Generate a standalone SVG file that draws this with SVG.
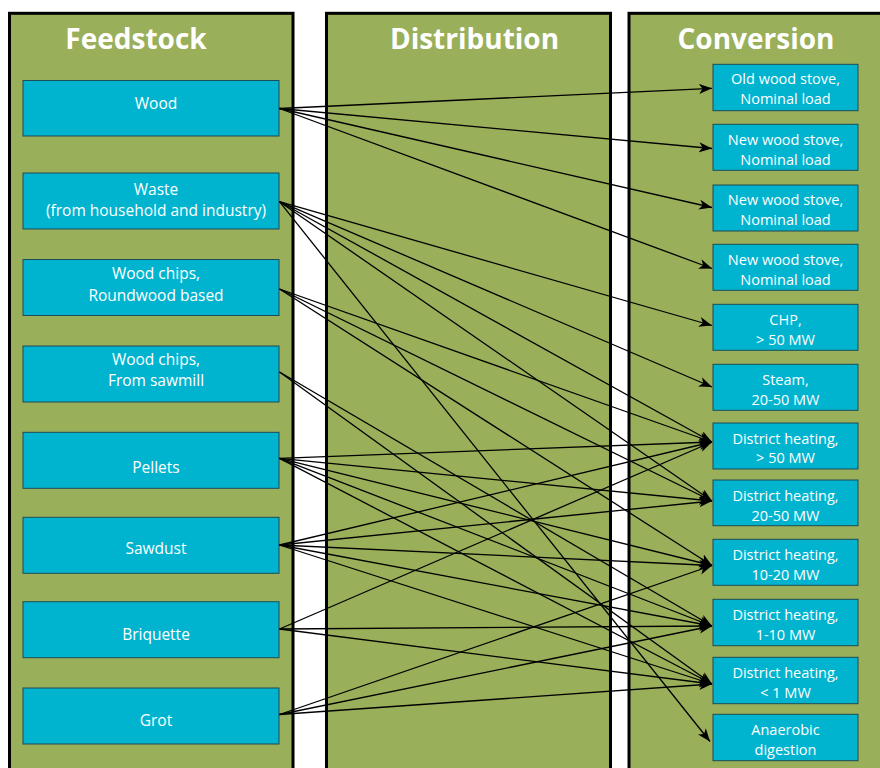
<svg xmlns="http://www.w3.org/2000/svg" width="880" height="768" viewBox="0 0 880 768">
<style>
.col{fill:#9aaf59;stroke:#000;stroke-width:3}
.title{font-family:"Open Sans","Noto Sans",sans-serif;font-weight:bold;font-size:28px;fill:#fff;text-anchor:middle}
.box{fill:#00b4cf;stroke:#1d4b57;stroke-width:1}
.ft{font-family:"Open Sans","Noto Sans",sans-serif;font-size:15.5px;fill:#fff;text-anchor:middle}
.ct{font-family:"Open Sans","Noto Sans",sans-serif;font-size:14.5px;fill:#fff;text-anchor:middle}
.e{stroke:#000;stroke-width:1.3;fill:none;marker-end:url(#ah)}
</style>
<defs>
<marker id="ah" markerUnits="userSpaceOnUse" markerWidth="14" markerHeight="11" refX="13" refY="5" orient="auto">
<path d="M0,0 L13,5 L0,10 L3.5,5 Z" fill="#000"/>
</marker>
</defs>
<rect width="880" height="768" fill="#fff"/>
<g id="col-feedstock"><rect class="col" x="9.5" y="13.3" width="283.5" height="800"/><text class="title" x="136" y="49">Feedstock</text></g>
<g id="col-distribution"><rect class="col" x="326.5" y="13.3" width="284" height="800"/><text class="title" x="474.5" y="49">Distribution</text></g>
<g id="col-conversion"><rect class="col" x="629" y="13.3" width="270" height="800"/><text class="title" x="756" y="49">Conversion</text></g>

<g id="f-wood"><rect class="box" x="23" y="80.5" width="256" height="55.5"/><text class="ft" x="156" y="109">Wood</text></g>
<g id="f-waste"><rect class="box" x="23" y="173" width="256" height="56"/><text class="ft" x="156" y="195">Waste</text><text class="ft" x="156" y="216">(from household and industry)</text></g>
<g id="f-chips-round"><rect class="box" x="23" y="259.5" width="256" height="56"/><text class="ft" x="156" y="279">Wood chips,</text><text class="ft" x="156" y="301">Roundwood based</text></g>
<g id="f-chips-saw"><rect class="box" x="23" y="346" width="256" height="56"/><text class="ft" x="156" y="365">Wood chips,</text><text class="ft" x="156" y="386">From sawmill</text></g>
<g id="f-pellets"><rect class="box" x="23" y="432.3" width="256" height="56"/><text class="ft" x="156" y="473">Pellets</text></g>
<g id="f-sawdust"><rect class="box" x="23" y="517.3" width="256" height="56"/><text class="ft" x="156" y="554">Sawdust</text></g>
<g id="f-briquette"><rect class="box" x="23" y="601.7" width="256" height="56"/><text class="ft" x="156" y="640">Briquette</text></g>
<g id="f-grot"><rect class="box" x="23" y="688" width="256" height="56"/><text class="ft" x="156" y="726">Grot</text></g>

<g id="c-old"><rect class="box" x="713" y="64.3" width="145" height="46.4"/><text class="ct" x="785.5" y="84">Old wood stove,</text><text class="ct" x="785.5" y="104">Nominal load</text></g>
<g id="c-new1"><rect class="box" x="713" y="124.3" width="145" height="46"/><text class="ct" x="785.5" y="144.5">New wood stove,</text><text class="ct" x="785.5" y="164.5">Nominal load</text></g>
<g id="c-new2"><rect class="box" x="713" y="185" width="145" height="46"/><text class="ct" x="785.5" y="205">New wood stove,</text><text class="ct" x="785.5" y="225">Nominal load</text></g>
<g id="c-new3"><rect class="box" x="713" y="244.3" width="145" height="46"/><text class="ct" x="785.5" y="264.5">New wood stove,</text><text class="ct" x="785.5" y="284.5">Nominal load</text></g>
<g id="c-chp"><rect class="box" x="713" y="304.3" width="145" height="46"/><text class="ct" x="785.5" y="324.5">CHP,</text><text class="ct" x="785.5" y="344.5">&gt; 50 MW</text></g>
<g id="c-steam"><rect class="box" x="713" y="364.3" width="145" height="46"/><text class="ct" x="785.5" y="384.5">Steam,</text><text class="ct" x="785.5" y="404.5">20-50 MW</text></g>
<g id="c-dh50"><rect class="box" x="713" y="423" width="145" height="46"/><text class="ct" x="785.5" y="443.5">District heating,</text><text class="ct" x="785.5" y="463">&gt; 50 MW</text></g>
<g id="c-dh2050"><rect class="box" x="713" y="480" width="145" height="45.7"/><text class="ct" x="785.5" y="500.5">District heating,</text><text class="ct" x="785.5" y="520.5">20-50 MW</text></g>
<g id="c-dh1020"><rect class="box" x="713" y="539.3" width="145" height="46"/><text class="ct" x="785.5" y="559.5">District heating,</text><text class="ct" x="785.5" y="579.5">10-20 MW</text></g>
<g id="c-dh110"><rect class="box" x="713" y="599.3" width="145" height="46.4"/><text class="ct" x="785.5" y="619.5">District heating,</text><text class="ct" x="785.5" y="639.5">1-10 MW</text></g>
<g id="c-dh1"><rect class="box" x="713" y="657.3" width="145" height="46.4"/><text class="ct" x="785.5" y="677.5">District heating,</text><text class="ct" x="785.5" y="697.5">&lt; 1 MW</text></g>
<g id="c-anaerobic"><rect class="box" x="713" y="714.3" width="145" height="46.4"/><text class="ct" x="785.5" y="734.5">Anaerobic</text><text class="ct" x="785.5" y="754.5">digestion</text></g>

<g id="connectors">
<line class="e" x1="279.5" y1="108.5" x2="712" y2="88.3"/>
<line class="e" x1="279.5" y1="108.5" x2="712" y2="148.5"/>
<line class="e" x1="279.5" y1="108.5" x2="712" y2="207.5"/>
<line class="e" x1="279.5" y1="108.5" x2="712" y2="268.5"/>
<line class="e" x1="279.5" y1="201.7" x2="712" y2="325.5"/>
<line class="e" x1="279.5" y1="201.7" x2="712" y2="387"/>
<line class="e" x1="279.5" y1="201.7" x2="712" y2="442"/>
<line class="e" x1="279.5" y1="201.7" x2="712" y2="501"/>
<line class="e" x1="279.5" y1="201.7" x2="710" y2="741.5"/>
<line class="e" x1="279.5" y1="289" x2="712" y2="442"/>
<line class="e" x1="279.5" y1="289" x2="712" y2="501"/>
<line class="e" x1="279.5" y1="289" x2="712" y2="565.5"/>
<line class="e" x1="279.5" y1="372" x2="712" y2="626"/>
<line class="e" x1="279.5" y1="372" x2="712" y2="684"/>
<line class="e" x1="279.5" y1="458.3" x2="712" y2="442"/>
<line class="e" x1="279.5" y1="458.3" x2="712" y2="501"/>
<line class="e" x1="279.5" y1="458.3" x2="712" y2="565.5"/>
<line class="e" x1="279.5" y1="458.3" x2="712" y2="626"/>
<line class="e" x1="279.5" y1="458.3" x2="712" y2="684"/>
<line class="e" x1="279.5" y1="545" x2="712" y2="442"/>
<line class="e" x1="279.5" y1="545" x2="712" y2="501"/>
<line class="e" x1="279.5" y1="545" x2="712" y2="565.5"/>
<line class="e" x1="279.5" y1="545" x2="712" y2="626"/>
<line class="e" x1="279.5" y1="545" x2="712" y2="684"/>
<line class="e" x1="279.5" y1="629" x2="712" y2="442"/>
<line class="e" x1="279.5" y1="629" x2="712" y2="626"/>
<line class="e" x1="279.5" y1="629" x2="712" y2="684"/>
<line class="e" x1="279.5" y1="714.5" x2="712" y2="565.5"/>
<line class="e" x1="279.5" y1="714.5" x2="712" y2="626"/>
<line class="e" x1="279.5" y1="714.5" x2="712" y2="684"/>
</g>
</svg>
